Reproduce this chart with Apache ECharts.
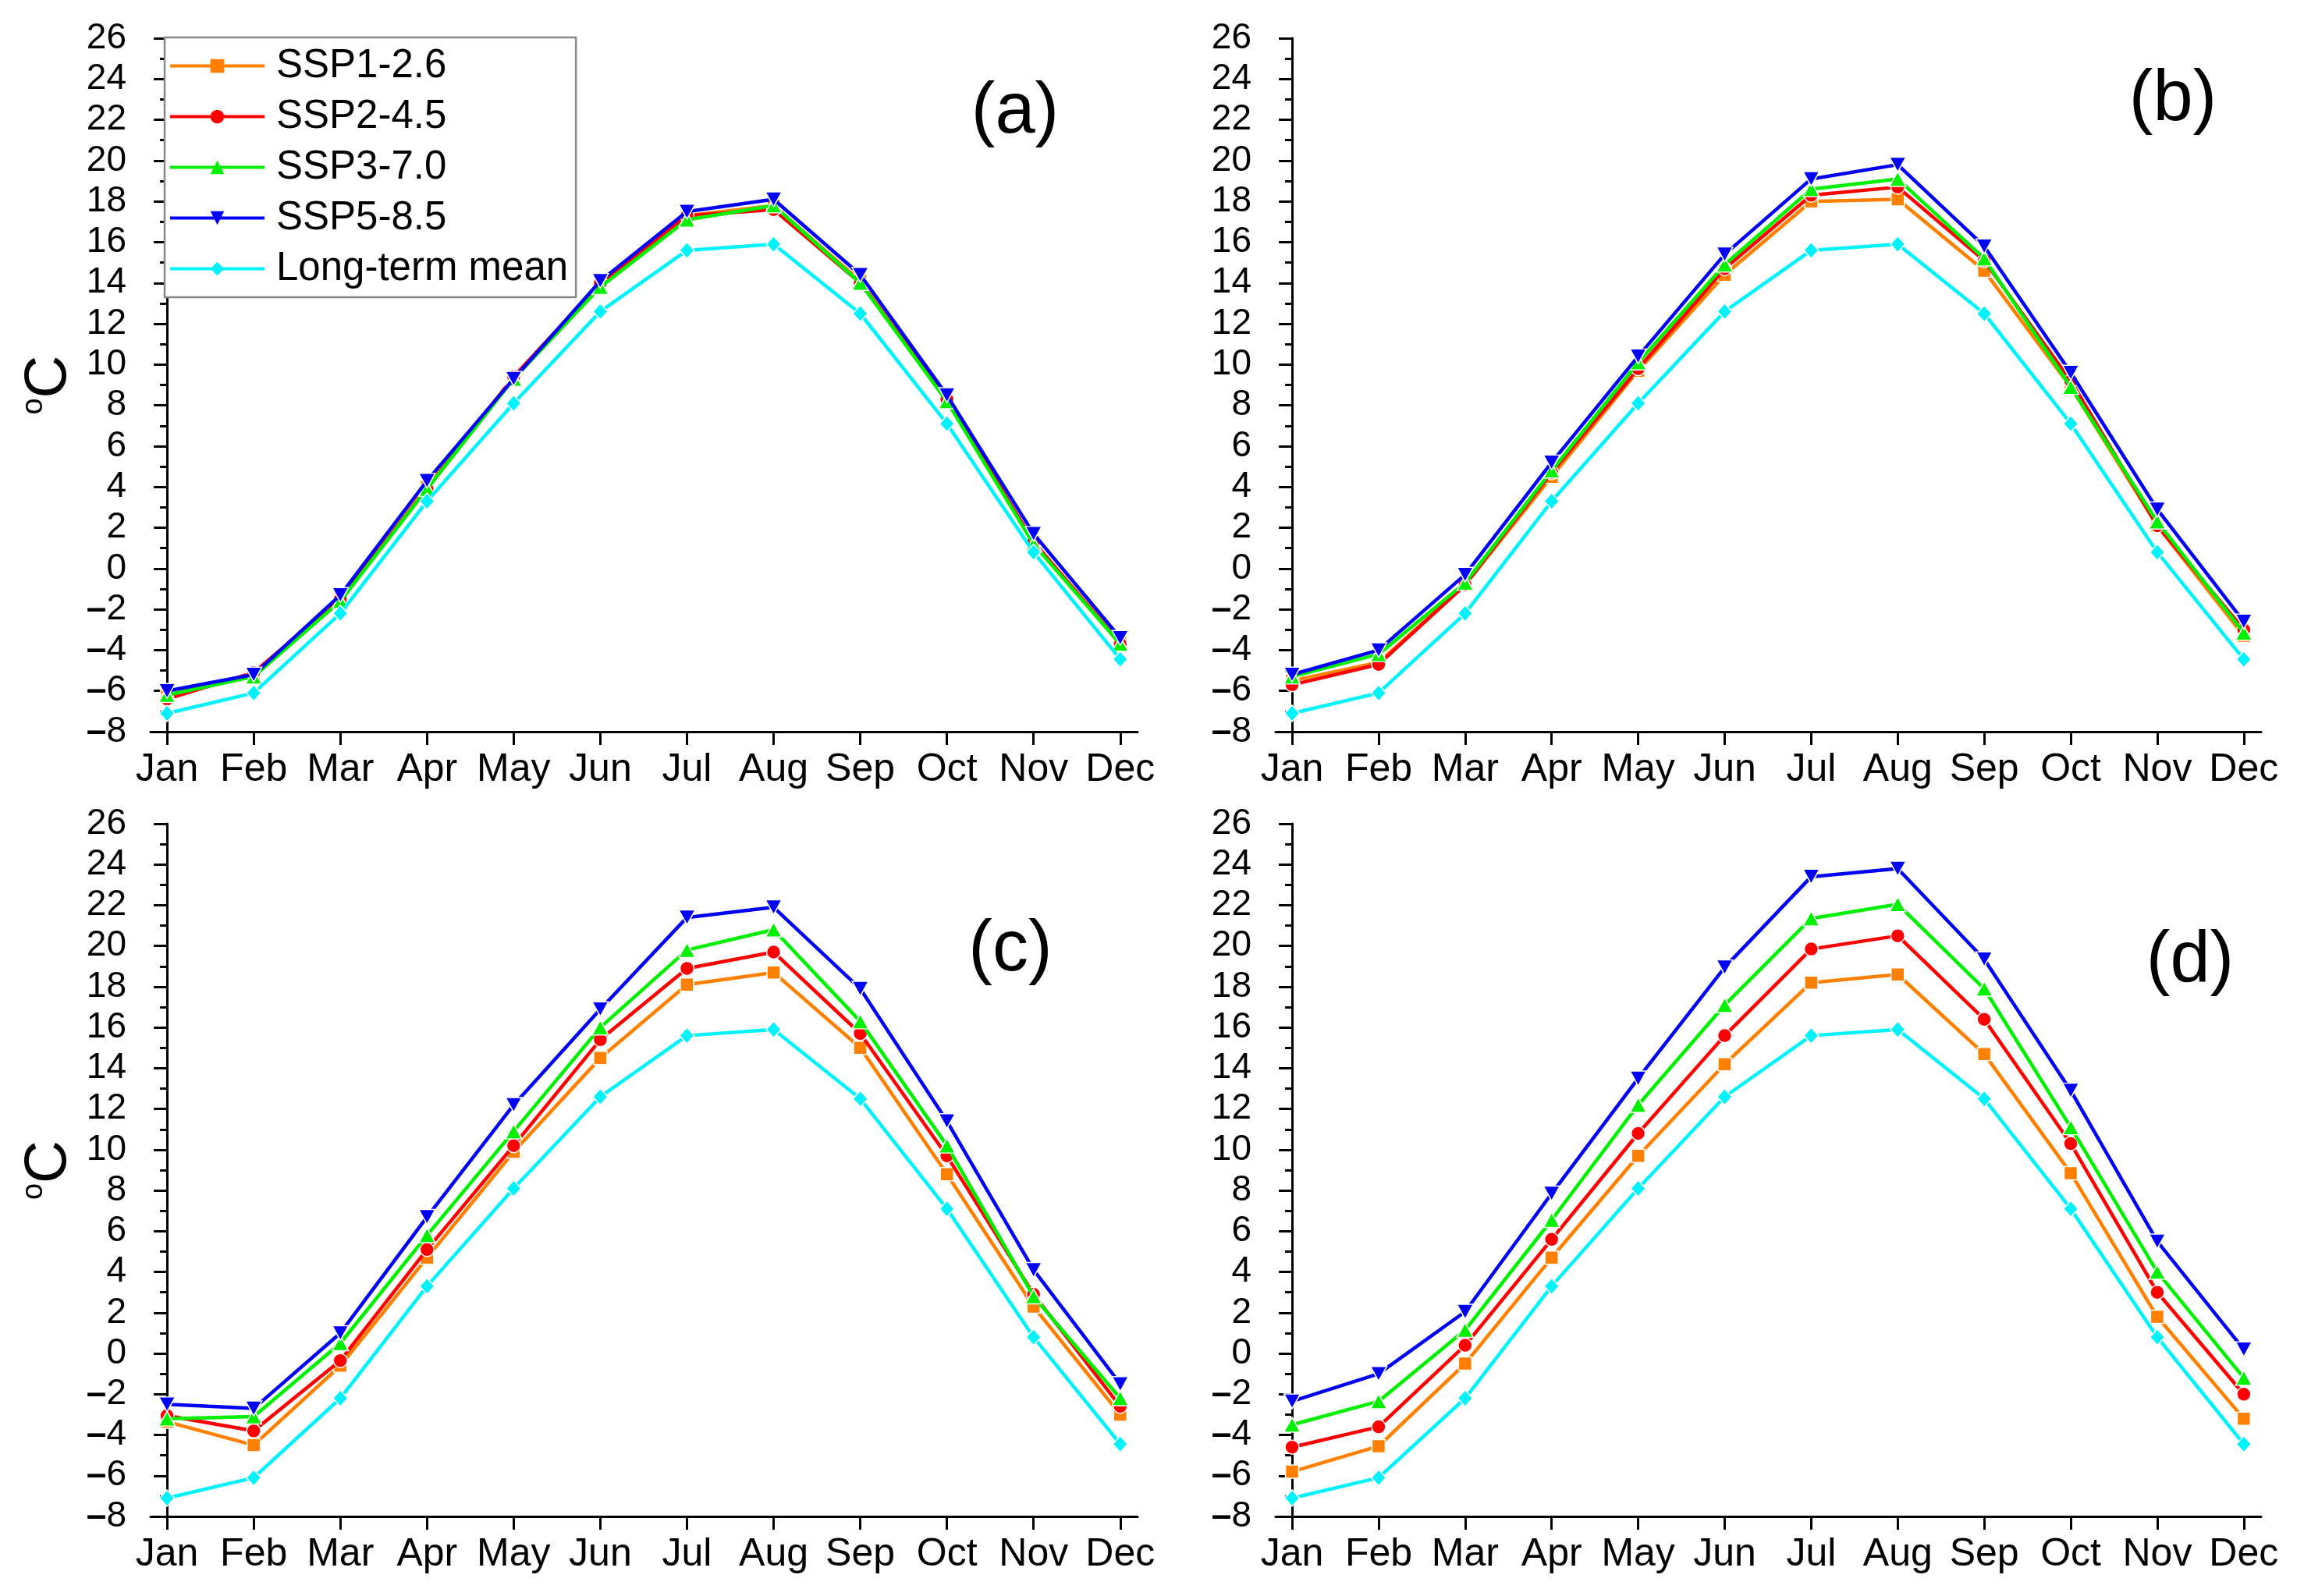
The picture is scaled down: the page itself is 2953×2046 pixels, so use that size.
<!DOCTYPE html>
<html><head><meta charset="utf-8">
<script src="https://cdn.jsdelivr.net/npm/echarts@6/dist/echarts.min.js"></script>
<style>html,body{margin:0;padding:0;background:#fff}#c{width:2953px;height:2046px}</style>
</head><body><div id="c"></div>
<script>
const months = ['Jan','Feb','Mar','Apr','May','Jun','Jul','Aug','Sep','Oct','Nov','Dec'];
const seriesNames = ['SSP1-2.6','SSP2-4.5','SSP3-7.0','SSP5-8.5','Long-term mean'];
const panelLabels = ['(a)','(b)','(c)','(d)'];

const longTermMean = [-7.1,-6.1,-2.2,3.3,8.1,12.6,15.6,15.9,12.5,7.1,0.8,-4.45];

const a_ssp126 = [-6.2,-5.2,-1.5,4.0,9.4,13.9,17.3,17.8,14.1,8.3,1.3,-3.6];
const a_ssp245 = [-6.4,-5.1,-1.5,3.9,9.4,14.0,17.3,17.6,14.0,8.3,1.3,-3.7];
const a_ssp370 = [-6.2,-5.3,-1.6,3.9,9.3,13.8,17.1,17.8,14.0,8.2,1.2,-3.7];
const a_ssp585 = [-6.0,-5.2,-1.3,4.3,9.3,14.1,17.5,18.1,14.4,8.5,1.7,-3.4];

const b_ssp126 = [-5.5,-4.6,-0.8,4.5,9.7,14.4,18.0,18.1,14.6,8.9,2.1,-3.3];
const b_ssp245 = [-5.7,-4.7,-0.8,4.7,9.8,14.7,18.3,18.7,15.1,9.2,2.1,-3.0];
const b_ssp370 = [-5.3,-4.2,-0.7,4.8,10.1,14.9,18.6,19.1,15.2,8.9,2.3,-3.15];
const b_ssp585 = [-5.2,-4.0,-0.3,5.2,10.4,15.4,19.1,19.8,15.8,9.6,2.9,-2.6];

const c_ssp126 = [-3.35,-4.5,-0.6,4.7,9.9,14.5,18.1,18.7,15.0,8.8,2.3,-3.0];
const c_ssp245 = [-3.05,-3.8,-0.35,5.1,10.2,15.4,18.9,19.7,15.7,9.7,2.9,-2.6];
const c_ssp370 = [-3.2,-3.1,0.5,5.8,10.9,16.0,19.8,20.8,16.3,10.2,2.8,-2.2];
const c_ssp585 = [-2.5,-2.7,1.0,6.7,12.2,16.9,21.4,21.9,17.9,11.4,4.1,-1.5];

const d_ssp126 = [-5.8,-4.55,-0.5,4.7,9.7,14.2,18.2,18.6,14.7,8.85,1.8,-3.2];
const d_ssp245 = [-4.6,-3.6,0.4,5.6,10.8,15.6,19.85,20.5,16.4,10.3,3.0,-2.0];
const d_ssp370 = [-3.5,-2.35,1.15,6.55,12.2,17.1,21.35,22.05,17.9,11.1,4.0,-1.2];
const d_ssp585 = [-2.35,-1.0,2.05,7.85,13.5,18.95,23.4,23.8,19.35,12.9,5.5,0.2];

const panels = [
  [a_ssp126,a_ssp245,a_ssp370,a_ssp585,longTermMean],
  [b_ssp126,b_ssp245,b_ssp370,b_ssp585,longTermMean],
  [c_ssp126,c_ssp245,c_ssp370,c_ssp585,longTermMean],
  [d_ssp126,d_ssp245,d_ssp370,d_ssp585,longTermMean]
];

const colors = ['#FF8000','#FF0000','#00F000','#0000F5','#00F2FA'];
const symbols = ['rect','circle','triangle','path://M0,0 L10,0 L5,9 Z','diamond'];
const symSizes = [17,18,[21,19],[21,19],[19,21]];

const FONT = 'Liberation Sans, Arial, sans-serif';
const gridPos = [
  {left:193, top:49, width:1265, height:889},
  {left:1635, top:49, width:1263, height:889},
  {left:193, top:1056, width:1265, height:888},
  {left:1635, top:1056, width:1263, height:888}
];
const labelPos = [[1296,150],[2780,134],[1290,1224],[2802,1238]];
const monthIdx = months.map((m,i)=>i);

const grids = [], xAxes = [], yAxes = [], series = [], titles = [];
panels.forEach((p, gi) => {
  grids.push(Object.assign({containLabel:false}, gridPos[gi]));
  xAxes.push({
    type:'value', gridIndex:gi, min:-0.19, max:11.2,
    axisLine:{show:true, onZero:false, lineStyle:{color:'#000', width:3}},
    axisTick:{show:true, length:17, lineStyle:{color:'#000', width:3}, customValues:monthIdx},
    axisLabel:{show:true, customValues:monthIdx, formatter:v=>months[Math.round(v)], color:'#000',
      fontSize:50, fontFamily:FONT, margin:24},
    splitLine:{show:false}
  });
  const ya = {
    type:'value', gridIndex:gi, min:-8, max:26, interval:2,
    axisLine:{show:true, lineStyle:{color:'#000', width:3}},
    axisTick:{show:true, length:17, lineStyle:{color:'#000', width:3}},
    minorTick:{show:true, splitNumber:2, length:9, lineStyle:{color:'#000', width:3}},
    axisLabel:{color:'#000', fontSize:46, fontFamily:FONT, margin:31,
      showMinLabel:true, showMaxLabel:true, hideOverlap:false,
      formatter:v=> v<0 ? '{m|\u2013}'+Math.abs(v) : String(v),
      rich:{m:{fontSize:46, fontFamily:FONT, fontWeight:'bold', color:'#000'}}},
    splitLine:{show:false}
  };
  if (gi===0 || gi===2) {
    ya.name = '{s|o}{c|C}';
    ya.nameLocation = 'middle';
    ya.nameRotate = 90;
    ya.nameGap = 92;
    ya.nameTextStyle = {color:'#000', fontFamily:FONT, fontSize:76,
      rich:{s:{fontSize:38, fontFamily:FONT, color:'#000', verticalAlign:'top', lineHeight:76},
            c:{fontSize:76, fontFamily:FONT, color:'#000', lineHeight:76}}};
  }
  yAxes.push(ya);
  p.forEach((vals, si) => {
    series.push({
      type:'line', name:seriesNames[si], xAxisIndex:gi, yAxisIndex:gi,
      data: vals.map((v,i)=>[i,v]),
      symbol:symbols[si], symbolSize:symSizes[si], showSymbol:true,
      lineStyle:{color:colors[si], width:4.5},
      itemStyle:{color:colors[si], borderColor:'#fff', borderWidth:1.5},
      emphasis:{disabled:true}, animation:false, z:2+si
    });
  });
  titles.push({text:panelLabels[gi], left:labelPos[gi][0], top:labelPos[gi][1]-56, textAlign:'center',
    textStyle:{fontSize:92, fontWeight:'normal', fontFamily:FONT, color:'#000'}});
});

const chart = echarts.init(document.getElementById('c'), null, {renderer:'canvas'});
chart.setOption({
  backgroundColor:'#fff',
  animation:false,
  title:titles,
  legend:{
    data:seriesNames, orient:'vertical', left:211, top:48,
    backgroundColor:'#fff', borderColor:'#888', borderWidth:2.5,
    padding:[11,10,11,5], itemGap:14, itemWidth:121, itemHeight:22,
    lineStyle:{width:4},
    itemStyle:{borderWidth:0},
    textStyle:{fontSize:51, fontFamily:FONT, color:'#000', padding:[0,0,0,10]}
  },
  grid:grids, xAxis:xAxes, yAxis:yAxes, series:series
});
</script></body></html>
